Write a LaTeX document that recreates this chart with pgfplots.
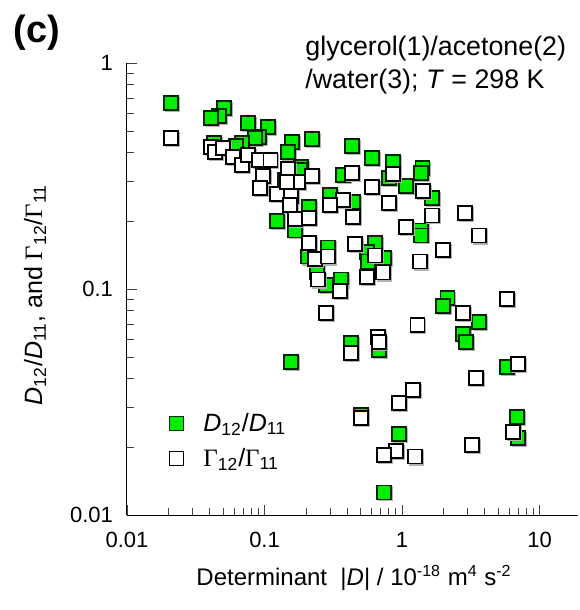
\documentclass[border=0pt]{standalone}
\usepackage{fontspec}
\setmainfont{Liberation Sans}
\newfontfamily\serifg{Liberation Serif}
\usepackage{pgfplots}
\usepackage{pgfplotstable}
\pgfplotsset{compat=1.18}
\definecolor{grn}{RGB}{0,238,0}

\pgfplotstableread{
x y
0.0209 0.665
0.0507 0.632
0.0467 0.583
0.0408 0.571
0.0759 0.543
0.106 0.521
0.0912 0.471
0.0853 0.466
0.0685 0.443
0.0621 0.429
0.0430 0.443
0.158 0.447
0.148 0.404
0.221 0.461
0.184 0.347
0.141 0.304
0.123 0.200
0.167 0.182
0.211 0.231
0.207 0.139
0.241 0.119
0.433 0.429
0.605 0.380
0.861 0.365
0.372 0.319
0.803 0.310
1.07 0.286
1.40 0.343
1.37 0.326
1.65 0.253
0.299 0.261
0.440 0.243
1.37 0.182
1.37 0.173
0.290 0.153
0.637 0.160
0.556 0.146
0.566 0.132
0.740 0.137
0.181 0.336
0.280 0.104
0.360 0.110
0.156 0.0475
0.426 0.0577
0.681 0.0537
2.13 0.0912
1.99 0.0841
3.63 0.0714
2.78 0.0632
2.92 0.0583
5.80 0.0452
6.86 0.0271
6.98 0.0219
0.504 0.0277
0.951 0.0228
0.740 0.0126
}\greentab

\pgfplotstableread{
x y
0.0209 0.466
0.0408 0.425
0.0437 0.404
0.0499 0.421
0.0590 0.384
0.0685 0.354
0.0759 0.392
0.0912 0.372
0.110 0.372
0.0975 0.316
0.0927 0.280
0.148 0.340
0.175 0.297
0.221 0.316
0.123 0.263
0.146 0.297
0.156 0.258
0.167 0.204
0.211 0.206
0.211 0.160
0.233 0.136
0.433 0.326
0.861 0.323
0.605 0.283
0.153 0.235
0.372 0.248
0.299 0.235
0.440 0.208
0.803 0.240
1.42 0.271
1.65 0.212
1.07 0.188
2.87 0.217
3.63 0.172
0.455 0.158
0.637 0.141
0.290 0.139
0.728 0.118
0.556 0.113
1.35 0.132
1.99 0.149
0.245 0.110
0.354 0.098
0.280 0.0783
1.29 0.0693
0.668 0.0613
0.426 0.0521
0.681 0.0583
0.504 0.0269
2.78 0.0783
5.80 0.0903
6.98 0.0466
3.45 0.0404
1.20 0.0357
0.951 0.0313
0.903 0.0192
0.740 0.0184
1.24 0.0181
3.23 0.0204
6.41 0.0233
}\whitetab

\begin{document}
\begin{tikzpicture}
\useasboundingbox (-63.5pt,-47.5pt) rectangle (226pt,257.5pt);
\begin{axis}[
  at={(0,0)}, anchor=south west,
  scale only axis, width=225.5pt, height=226pt,
  xmode=log, ymode=log,
  xmin=0.01, xmax=19, ymin=0.01, ymax=1,
  axis x line=bottom, axis y line=left,
  axis line style={-, line width=0.5pt},
  tick align=inside,
  major tick length=5pt, minor tick length=3.5pt,
  tick style={line width=0.45pt, black!75},
  xtick={0.01,0.1,1,10}, xticklabels={0.01,0.1,1,10},
  ytick={0.01,0.1,1}, yticklabels={0.01,0.1,1},
  minor xtick={0.02,0.03,0.04,0.05,0.06,0.07,0.08,0.09,0.2,0.3,0.4,0.5,0.6,0.7,0.8,0.9,2,3,4,5,6,7,8,9},
  minor ytick={0.02,0.03,0.04,0.05,0.06,0.07,0.08,0.09,0.2,0.3,0.4,0.5,0.6,0.7,0.8,0.9},
  ticklabel style={font=\fontsize{11}{13}\selectfont},
  xticklabel style={yshift=-5pt},
  yticklabel style={xshift=-3.5pt},
  clip=false,
  legend image code/.code={\draw[#1] plot coordinates {(0pt,0pt)};},
  legend style={draw=none, fill=none, at={(rel axis cs:0.093,0.1635)}, anchor=west,
     font=\fontsize{12.5}{15}\selectfont, row sep=5pt, column sep=9pt, inner sep=0pt,
     nodes={inner sep=1pt}},
  legend cell align=left,
]
\addplot[only marks, forget plot, mark=square*, mark size=3.5pt,
  mark options={draw=black!30, fill=black!30, line width=0.7pt, xshift=0.7pt, yshift=-0.7pt}]
  table[x=x,y=y]{\greentab};
\addplot[only marks, mark=square*, mark size=3.5pt,
  mark options={draw=black!85!green, fill=grn, line width=0.7pt}]
  table[x=x,y=y]{\greentab};
\addlegendentry{\textit{D}\textsubscript{12}/\textit{D}\textsubscript{11}}
\addplot[only marks, forget plot, mark=square*, mark size=3.5pt,
  mark options={draw=black!30, fill=black!30, line width=0.7pt, xshift=0.7pt, yshift=-0.7pt}]
  table[x=x,y=y]{\whitetab};
\addplot[only marks, mark=square*, mark size=3.5pt,
  mark options={draw=black, fill=white, line width=0.7pt}]
  table[x=x,y=y]{\whitetab};
\addlegendentry{{\serifg Γ}\textsubscript{12}/{\serifg Γ}\textsubscript{11}}
\end{axis}
\node[font=\fontsize{19}{22}\bfseries] at (-45pt,241pt) {(c)};
\node[anchor=west, inner sep=0pt, font=\fontsize{13.4}{16}\selectfont] at (89pt,233pt) {glycerol(1)/acetone(2)};
\node[anchor=west, inner sep=0pt, font=\fontsize{13.4}{16}\selectfont] at (89pt,216.5pt) {/water(3); \textit{T} = 298 K};
\node[font=\fontsize{12}{14}\selectfont] at (113.5pt,-31.5pt) {Determinant\ \ |\textit{D}| / 10\textsuperscript{-18} m\textsuperscript{4} s\textsuperscript{-2}};
\node[rotate=90, font=\fontsize{12.5}{15}\selectfont] at (-46pt,110pt) {\textit{D}\textsubscript{12}/\textit{D}\textsubscript{11}, and {\serifg Γ}\textsubscript{12}/{\serifg Γ}\textsubscript{11}};
\end{tikzpicture}
\end{document}
